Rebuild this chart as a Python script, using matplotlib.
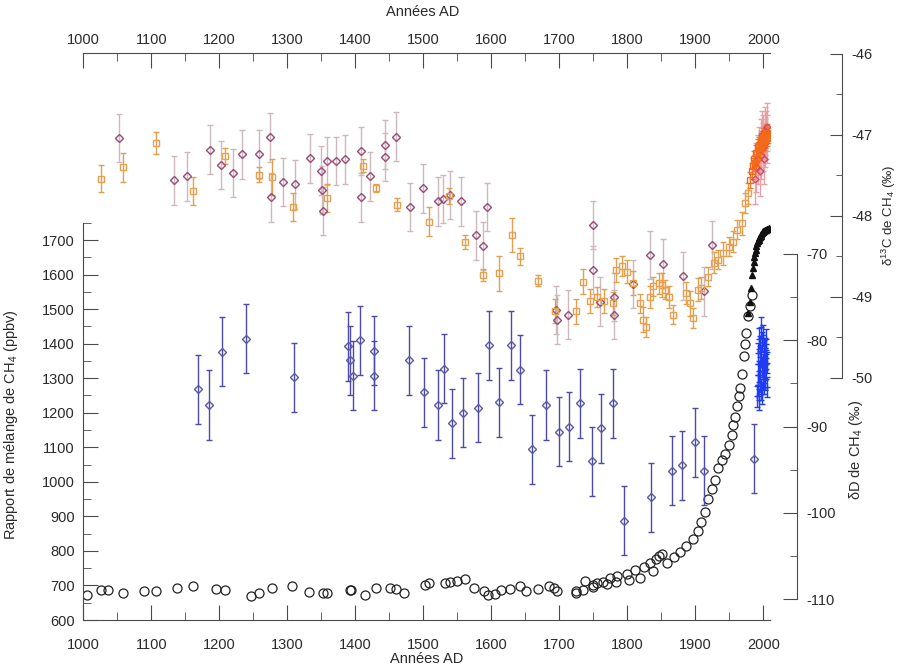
import matplotlib.pyplot as plt
from matplotlib.ticker import FixedLocator

plt.rcParams['font.family'] = ['Liberation Sans', 'DejaVu Sans']
plt.rcParams['mathtext.fontset'] = 'custom'
plt.rcParams['mathtext.rm'] = 'Liberation Sans'
plt.rcParams['mathtext.it'] = 'Liberation Sans:italic'
plt.rcParams['axes.unicode_minus'] = False
plt.rcParams['font.size'] = 10.5

# --- CH4 mixing ratio (ppbv), ice cores + firn
circ_year = [1005, 1026, 1037, 1059, 1089, 1107, 1138, 1161, 1195, 1209, 1247, 1259,
             1277, 1307, 1332, 1352, 1359, 1392, 1393, 1414, 1430, 1451, 1460, 1471,
             1503, 1509, 1532, 1539, 1550, 1561, 1574, 1590, 1595, 1606, 1614, 1627,
             1642, 1651, 1668, 1685, 1692, 1697, 1724, 1725, 1735, 1738, 1749, 1750,
             1755, 1764, 1770, 1774, 1784, 1785, 1799, 1802, 1812, 1819, 1824, 1833,
             1838, 1842, 1847, 1851, 1858, 1868, 1878, 1887, 1897, 1904, 1909, 1914,
             1919, 1924, 1929, 1934, 1939, 1944, 1949, 1954, 1956, 1958, 1962, 1964,
             1966, 1968, 1971, 1973, 1975, 1978, 1980, 1983]
circ_ppbv = [671, 686, 686, 679, 685, 683, 694, 697, 691, 686, 669, 677,
             694, 697, 681, 677, 677, 686, 688, 672, 694, 694, 691, 679,
             702, 708, 708, 709, 712, 720, 694, 685, 673, 676, 688, 691,
             697, 683, 690, 699, 694, 683, 683, 678, 688, 713, 700, 695,
             706, 709, 703, 722, 710, 727, 732, 716, 744, 723, 753, 765,
             742, 777, 786, 791, 766, 781, 796, 815, 834, 859, 883, 912,
             951, 980, 1005, 1039, 1063, 1082, 1107, 1136, 1165, 1189, 1219, 1248,
             1272, 1311, 1365, 1399, 1432, 1481, 1510, 1540]

# --- atmospheric CH4 (ppbv)
tri_year = [1978, 1980, 1982, 1984, 1985, 1986, 1987, 1988, 1989, 1990, 1991, 1992,
            1993, 1994, 1995, 1996, 1997, 1998, 1999, 2000, 2001, 2002, 2003, 2004,
            2005, 2006, 2007, 2008]
tri_ppbv = [1490, 1520, 1560, 1600, 1620, 1635, 1650, 1662, 1672, 1682, 1690, 1697,
            1700, 1705, 1710, 1713, 1717, 1720, 1723, 1725, 1727, 1728, 1729, 1730,
            1731, 1731, 1733, 1735]

# --- deltaD of CH4 (permil)
dd_year = [1168, 1185, 1204, 1239, 1310, 1389, 1392, 1396, 1407, 1427, 1428, 1479,
           1501, 1522, 1530, 1542, 1559, 1580, 1596, 1611, 1629, 1642, 1660, 1680,
           1699, 1714, 1730, 1748, 1762, 1779, 1795, 1835, 1866, 1881, 1900, 1913, 1986]
dd_val = [-85.7, -87.5, -81.3, -79.8, -84.3, -80.7, -82.3, -84.1, -80.0, -81.2, -84.1, -82.3,
          -86.0, -87.5, -83.3, -89.6, -88.4, -87.8, -80.6, -87.2, -80.6, -83.4, -92.6, -87.5,
          -90.6, -90.0, -87.3, -94.0, -90.2, -87.3, -100.9, -98.2, -95.1, -94.5, -91.8, -95.1, -93.7]
dd_err = [4.0] * len(dd_year)

dd_atm_year = [1991, 1991.5, 1992, 1992.5, 1993, 1993.5, 1994, 1994.5, 1995, 1995.5,
               1996, 1996.5, 1997, 1997.5, 1998, 1998.5, 1999, 1999.5, 2000, 2000.5,
               2001, 2001.5, 2002, 2002.5, 2003, 2003.5, 2004, 2004.5, 2005, 2005.5]
dd_atm_val = [-86.5, -84.0, -81.5, -85.2, -79.8, -83.6, -86.9, -80.7, -82.4, -84.8,
              -78.5, -81.9, -85.7, -83.1, -80.2, -86.2, -82.8, -79.4, -84.3, -81.2,
              -85.0, -83.7, -80.9, -82.1, -84.6, -81.6, -83.3, -79.9, -82.6, -85.4]
dd_atm_err = [1.2] * len(dd_atm_year)

# --- delta13C of CH4 (permil), squares
sq_year = [1026, 1059, 1107, 1162, 1209, 1259, 1277, 1308, 1358, 1412, 1430, 1461,
           1508, 1538, 1561, 1588, 1612, 1630, 1642, 1668, 1694, 1725, 1735, 1745,
           1755, 1766, 1779, 1784, 1792, 1799, 1809, 1818, 1823, 1828, 1833, 1838,
           1846, 1851, 1855, 1862, 1867, 1887, 1892, 1897, 1904, 1909, 1919, 1927,
           1934, 1941, 1949, 1956, 1961, 1968, 1973, 1977]
sq_val = [-47.54, -47.40, -47.10, -47.69, -47.26, -47.49, -47.52, -47.89, -47.78, -47.38, -47.66, -47.86,
          -48.07, -47.75, -48.32, -48.73, -48.71, -48.23, -48.50, -48.80, -49.17, -49.18, -48.81, -49.05,
          -49.00, -49.05, -49.08, -48.67, -48.62, -48.69, -48.83, -49.08, -49.28, -49.37, -49.00, -48.87,
          -48.83, -48.85, -48.91, -49.00, -49.22, -48.95, -49.08, -49.26, -48.91, -48.89, -48.75, -48.58,
          -48.54, -48.46, -48.38, -48.32, -48.17, -48.09, -47.84, -47.72]
sq_err = [0.17, 0.18, 0.14, 0.17, 0.10, 0.09, 0.22, 0.17, 0.17, 0.08, 0.05, 0.08,
          0.18, 0.10, 0.09, 0.07, 0.22, 0.21, 0.11, 0.07, 0.15, 0.16, 0.15, 0.15,
          0.12, 0.15, 0.14, 0.15, 0.12, 0.14, 0.15, 0.12, 0.15, 0.12, 0.14, 0.12,
          0.13, 0.15, 0.12, 0.14, 0.12, 0.14, 0.15, 0.12, 0.14, 0.13, 0.12, 0.13,
          0.12, 0.14, 0.12, 0.13, 0.12, 0.14, 0.12, 0.13]

sq_atm_year = [1980, 1983, 1985, 1987, 1988, 1990, 1991, 1992, 1993, 1994, 1995, 1996,
               1997, 1998, 1999, 2000, 2001, 2002, 2003, 2004, 2005, 2006, 2007]
sq_atm_val = [-47.56, -47.45, -47.38, -47.30, -47.35, -47.22, -47.28, -47.15, -47.20, -47.12, -47.18, -47.08,
              -47.14, -47.05, -47.10, -47.02, -47.08, -47.00, -47.06, -46.98, -47.04, -46.97, -47.00]
sq_atm_err = [0.1] * len(sq_atm_year)

# --- delta13C of CH4 (permil), diamonds
dm_year = [1053, 1133, 1152, 1187, 1202, 1220, 1233, 1259, 1275, 1276, 1294, 1311,
           1333, 1350, 1351, 1352, 1359, 1371, 1385, 1408, 1409, 1421, 1443, 1444,
           1460, 1480, 1499, 1522, 1529, 1540, 1555, 1578, 1588, 1594, 1695, 1696,
           1713, 1749, 1750, 1760, 1780, 1781, 1809, 1833, 1852, 1882, 1913, 1925]
dm_val = [-47.04, -47.56, -47.51, -47.18, -47.37, -47.47, -47.24, -47.24, -47.03, -47.77, -47.58, -47.61,
          -47.29, -47.44, -47.68, -47.94, -47.32, -47.32, -47.30, -47.20, -47.77, -47.51, -47.12, -47.27,
          -47.02, -47.89, -47.66, -47.82, -47.79, -47.74, -47.82, -48.24, -48.37, -47.89, -49.16, -49.28,
          -49.22, -48.11, -48.67, -49.06, -49.22, -49.00, -48.84, -48.48, -48.59, -48.74, -48.93, -48.36]
dm_err = [0.3] * len(dm_year)

dm_atm_year = [1988, 1990, 1992, 1994, 1995, 1996, 1997, 1998, 1999, 2000, 2001, 2002,
               2003, 2004, 2005, 2006]
dm_atm_val = [-47.55, -47.40, -47.30, -47.20, -47.45, -47.10, -47.25, -47.00, -47.15, -47.05, -47.30, -46.95,
              -47.10, -47.00, -46.90, -47.05]
dm_atm_err = [0.3] * len(dm_atm_year)

W, H = 903, 671
x0, x1 = 83.3, 83.3 + 1010 * 0.68
ytop, ybot = 53.5, 620
axis_col = '#4a4a4a'
txt_col = '#2a2a2a'

fig = plt.figure(figsize=(9.03, 6.71), dpi=100)
ax = fig.add_axes([x0 / W, 1 - ybot / H, (x1 - x0) / W, (ybot - ytop) / H])
ax.patch.set_alpha(0)
ax.set_xlim(1000, 2010)
ax.set_ylim(600, 2240)

for s in ax.spines.values():
    s.set_color(axis_col)
ax.spines['right'].set_visible(False)
ax.spines['top'].set_visible(False)
ax.spines['left'].set_bounds(600, 1750)

ax.xaxis.set_major_locator(FixedLocator(range(1000, 2001, 100)))
ax.xaxis.set_minor_locator(FixedLocator(range(1050, 2000, 100)))
ax.yaxis.set_major_locator(FixedLocator(range(600, 1701, 100)))
ax.yaxis.set_minor_locator(FixedLocator(range(650, 1751, 100)))
ax.tick_params(axis='x', which='both', direction='in', top=False, bottom=True,
               labeltop=False, labelbottom=True, color=axis_col, labelcolor=txt_col, pad=13)
ax.tick_params(axis='y', which='both', direction='in', left=True, right=False,
               color=axis_col, labelcolor=txt_col, pad=6)
ax.tick_params(which='major', length=11)
ax.tick_params(which='minor', length=6)

# top year axis
top = ax.secondary_xaxis('top')
top.spines['top'].set_color(axis_col)
top.xaxis.set_major_locator(FixedLocator(range(1000, 2001, 100)))
top.xaxis.set_minor_locator(FixedLocator(range(1050, 2000, 100)))
top.tick_params(axis='x', which='both', direction='in', color=axis_col, labelcolor=txt_col, pad=5)
top.tick_params(which='major', length=11)
top.tick_params(which='minor', length=6)

ax.plot(circ_year, circ_ppbv, 'o', mfc='none', mec='#222222', ms=6.5, mew=0.9)
ax.plot(tri_year, tri_ppbv, '^', color='#111111', ms=4)

ax.set_xlabel('Années AD', color=txt_col, labelpad=0)
ax.set_ylabel('Rapport de mélange de CH$_4$ (ppbv)', color=txt_col)
ax.yaxis.set_label_coords(-0.092, 0.345)
fig.text(423 / W, 1 - 12 / H, 'Années AD', ha='center', va='center', color=txt_col, fontsize=10.5)

# delta13C axis
ax13 = ax.twinx()
ax13.set_ylim(-52.99, -45.994)
for k in ['left', 'top', 'bottom']:
    ax13.spines[k].set_visible(False)
ax13.spines['right'].set_position(('axes', (841.7 - x0) / (x1 - x0)))
ax13.spines['right'].set_bounds(-50, -46)
ax13.spines['right'].set_color(axis_col)
ax13.yaxis.set_major_locator(FixedLocator([-50, -49, -48, -47, -46]))
ax13.yaxis.set_minor_locator(FixedLocator([-49.5, -48.5, -47.5, -46.5]))
ax13.tick_params(axis='y', which='both', direction='in', color=axis_col, labelcolor=txt_col, pad=7)
ax13.tick_params(which='major', length=9)
ax13.tick_params(which='minor', length=4)
ax13.set_ylabel('δ$^{13}$C de CH$_4$ (‰)', color=txt_col, fontsize=9.5)
ax13.yaxis.set_label_coords((880 - x0) / (x1 - x0), (ybot - 215) / (ybot - ytop))

ax13.errorbar(dm_year, dm_val, yerr=dm_err, fmt='D', mfc='none', mec='#9b4a78', ms=4.5, mew=1,
              ecolor='#cdb9bd', elinewidth=1, capsize=2.5, capthick=1)
ax13.errorbar(sq_year, sq_val, yerr=sq_err, fmt='s', mfc='none', mec='#e8a050', ms=5, mew=1,
              ecolor='#e0a050', elinewidth=1, capsize=2.5, capthick=1)
ax13.errorbar(dm_atm_year, dm_atm_val, yerr=dm_atm_err, fmt='D', mfc='none', mec='#d04a64', ms=3.5, mew=1,
              ecolor='#e8a0a8', elinewidth=1, capsize=2, capthick=1)
ax13.errorbar(sq_atm_year, sq_atm_val, yerr=sq_atm_err, fmt='s', mfc='none', mec='#f26a1a', ms=4, mew=1,
              ecolor='#f07a30', elinewidth=1, capsize=2, capthick=1)

# deltaD axis
axD = ax.twinx()
axD.set_ylim(-112.41, -46.77)
for k in ['left', 'top', 'bottom']:
    axD.spines[k].set_visible(False)
axD.spines['right'].set_position(('axes', (796.7 - x0) / (x1 - x0)))
axD.spines['right'].set_bounds(-110, -70)
axD.spines['right'].set_color(axis_col)
axD.yaxis.set_major_locator(FixedLocator([-110, -100, -90, -80, -70]))
axD.yaxis.set_minor_locator(FixedLocator([-105, -95, -85, -75]))
axD.tick_params(axis='y', which='both', direction='in', color=axis_col, labelcolor=txt_col, pad=7)
axD.tick_params(which='major', length=10)
axD.tick_params(which='minor', length=5)
axD.set_ylabel('δD de CH$_4$ (‰)', color=txt_col)
axD.yaxis.set_label_coords((847 - x0) / (x1 - x0), (ybot - 450) / (ybot - ytop))

axD.errorbar(dd_year, dd_val, yerr=dd_err, fmt='D', mfc='none', mec='#5a5aa8', ms=4, mew=1,
             ecolor='#4c4ca8', elinewidth=1, capsize=2.5, capthick=1)
axD.errorbar(dd_atm_year, dd_atm_val, yerr=dd_atm_err, fmt='+', color='#1f3cf0', ms=4, mew=1,
             ecolor='#1f3cf0', elinewidth=1, capsize=2, capthick=1)

fig.savefig('out.png', dpi=100)
